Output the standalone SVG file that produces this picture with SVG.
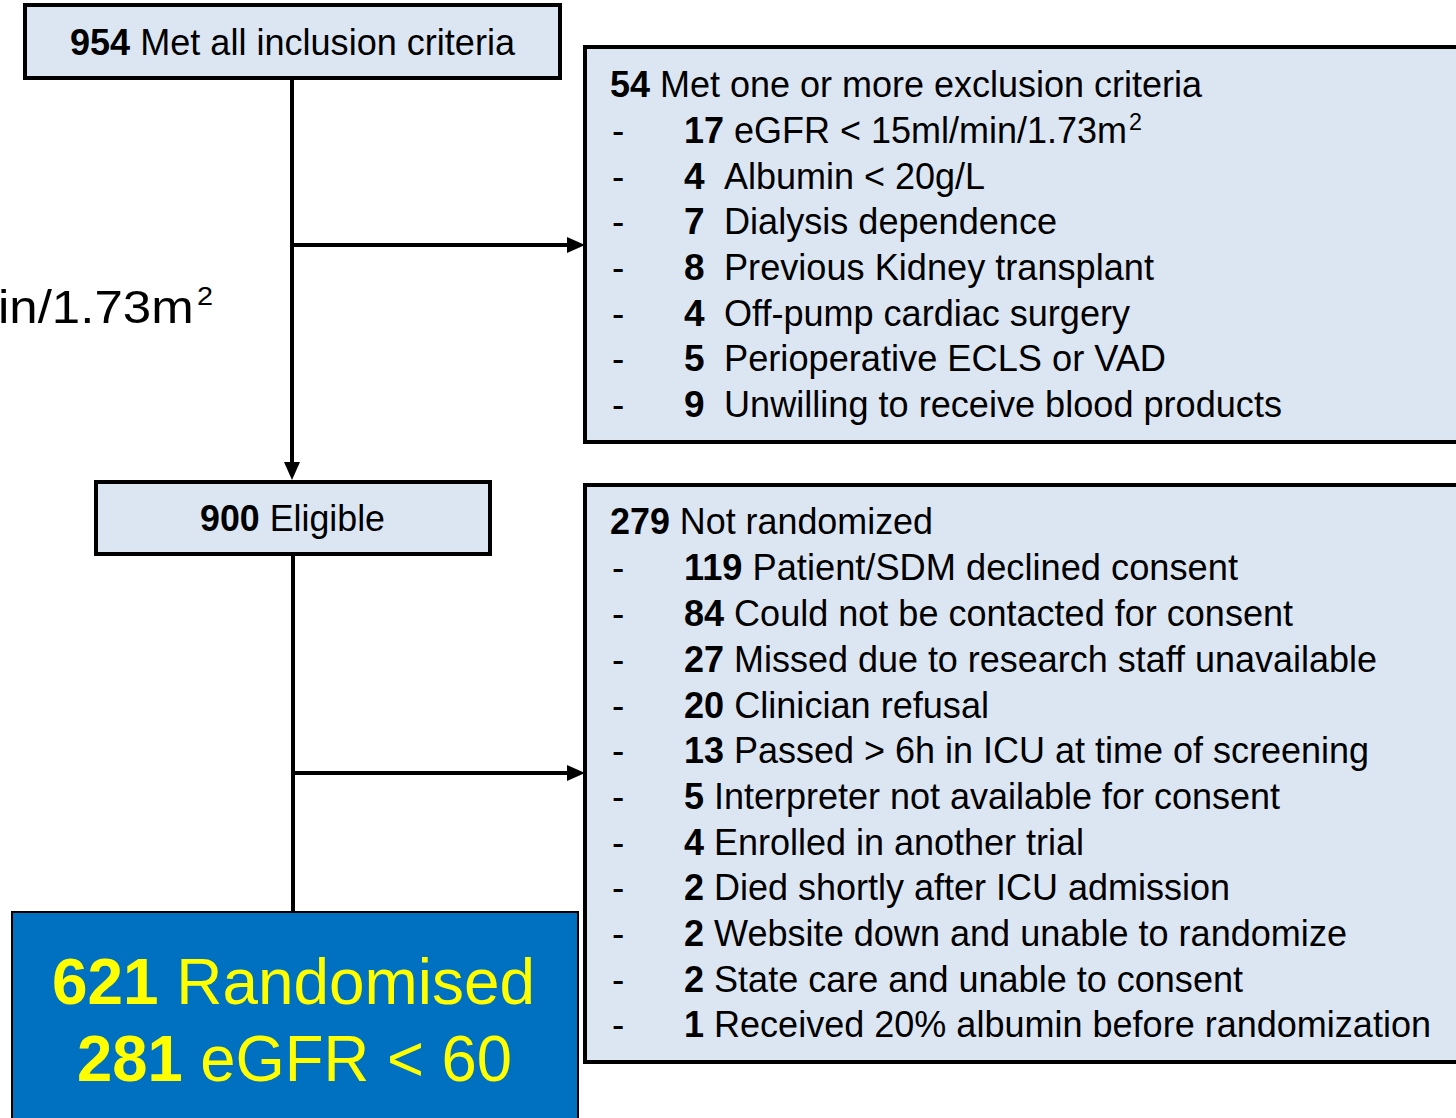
<svg xmlns="http://www.w3.org/2000/svg" width="1456" height="1118" viewBox="0 0 1456 1118">
<style>
.box{fill:#dce6f2;stroke:#000;stroke-width:4}
.t{font-family:"Liberation Sans",Arial,sans-serif;font-size:37px;fill:#000}
.b{font-weight:bold}
.big{font-family:"Liberation Sans",Arial,sans-serif;font-size:64px;fill:#ffff00}
.side{font-family:"Liberation Sans",Arial,sans-serif;font-size:46px;fill:#000}
.conn{fill:none;stroke:#000;stroke-width:4}
</style>
<defs>
<marker id="ah" markerUnits="userSpaceOnUse" markerWidth="18" markerHeight="16" refX="2" refY="8" orient="auto" viewBox="0 0 18 16">
<path d="M0,0 L18,8 L0,16 z" fill="#000"/>
</marker>
</defs>
<rect width="1456" height="1118" fill="#fff"/>

<g id="side-text">
<text class="side" x="-2" y="323" textLength="215" lengthAdjust="spacingAndGlyphs">in/1.73m<tspan dx="3" dy="-18" style="font-size:26px">2</tspan></text>
</g>

<g id="connectors">
<path class="conn" d="M292,78 V464" marker-end="url(#ah)"/>
<path class="conn" d="M292,245 H569" marker-end="url(#ah)"/>
<path class="conn" d="M293,554 V914"/>
<path class="conn" d="M293,773 H569" marker-end="url(#ah)"/>
</g>

<g id="node-inclusion">
<rect class="box" x="25" y="5" width="535" height="73"/>
<text class="t" x="70" y="55" textLength="445" lengthAdjust="spacingAndGlyphs"><tspan class="b">954</tspan> Met all inclusion criteria</text>
</g>

<g id="node-exclusion">
<rect class="box" x="585" y="47" width="900" height="395"/>
<text class="t" x="610" y="97" textLength="592" lengthAdjust="spacingAndGlyphs"><tspan class="b">54</tspan> Met one or more exclusion criteria</text>
<text class="t" x="612" y="143">-</text>
<text class="t" x="684" y="143" textLength="458" lengthAdjust="spacingAndGlyphs"><tspan class="b">17</tspan> eGFR &lt; 15ml/min/1.73m<tspan dx="2" dy="-13" style="font-size:24px">2</tspan></text>
<text class="t" x="612" y="189">-</text>
<text class="t b" x="684" y="189">4</text>
<text class="t" x="724" y="189" textLength="261" lengthAdjust="spacingAndGlyphs">Albumin &lt; 20g/L</text>
<text class="t" x="612" y="234">-</text>
<text class="t b" x="684" y="234">7</text>
<text class="t" x="724" y="234" textLength="333" lengthAdjust="spacingAndGlyphs">Dialysis dependence</text>
<text class="t" x="612" y="280">-</text>
<text class="t b" x="684" y="280">8</text>
<text class="t" x="724" y="280" textLength="430" lengthAdjust="spacingAndGlyphs">Previous Kidney transplant</text>
<text class="t" x="612" y="326">-</text>
<text class="t b" x="684" y="326">4</text>
<text class="t" x="724" y="326" textLength="406" lengthAdjust="spacingAndGlyphs">Off-pump cardiac surgery</text>
<text class="t" x="612" y="371">-</text>
<text class="t b" x="684" y="371">5</text>
<text class="t" x="724" y="371" textLength="442" lengthAdjust="spacingAndGlyphs">Perioperative ECLS or VAD</text>
<text class="t" x="612" y="417">-</text>
<text class="t b" x="684" y="417">9</text>
<text class="t" x="724" y="417" textLength="558" lengthAdjust="spacingAndGlyphs">Unwilling to receive blood products</text>
</g>

<g id="node-eligible">
<rect class="box" x="96" y="482" width="394" height="72"/>
<text class="t" x="200" y="531" textLength="185" lengthAdjust="spacingAndGlyphs"><tspan class="b">900</tspan> Eligible</text>
</g>

<g id="node-not-randomized">
<rect class="box" x="585" y="485" width="900" height="577"/>
<text class="t" x="610" y="534" textLength="323" lengthAdjust="spacingAndGlyphs"><tspan class="b">279</tspan> Not randomized</text>
<text class="t" x="612" y="580">-</text>
<text class="t" x="684" y="580" textLength="554" lengthAdjust="spacingAndGlyphs"><tspan class="b">119</tspan> Patient/SDM declined consent</text>
<text class="t" x="612" y="626">-</text>
<text class="t" x="684" y="626" textLength="609" lengthAdjust="spacingAndGlyphs"><tspan class="b">84</tspan> Could not be contacted for consent</text>
<text class="t" x="612" y="672">-</text>
<text class="t" x="684" y="672" textLength="693" lengthAdjust="spacingAndGlyphs"><tspan class="b">27</tspan> Missed due to research staff unavailable</text>
<text class="t" x="612" y="718">-</text>
<text class="t" x="684" y="718" textLength="305" lengthAdjust="spacingAndGlyphs"><tspan class="b">20</tspan> Clinician refusal</text>
<text class="t" x="612" y="763">-</text>
<text class="t" x="684" y="763" textLength="685" lengthAdjust="spacingAndGlyphs"><tspan class="b">13</tspan> Passed &gt; 6h in ICU at time of screening</text>
<text class="t" x="612" y="809">-</text>
<text class="t" x="684" y="809" textLength="596" lengthAdjust="spacingAndGlyphs"><tspan class="b">5</tspan> Interpreter not available for consent</text>
<text class="t" x="612" y="855">-</text>
<text class="t" x="684" y="855" textLength="400" lengthAdjust="spacingAndGlyphs"><tspan class="b">4</tspan> Enrolled in another trial</text>
<text class="t" x="612" y="900">-</text>
<text class="t" x="684" y="900" textLength="546" lengthAdjust="spacingAndGlyphs"><tspan class="b">2</tspan> Died shortly after ICU admission</text>
<text class="t" x="612" y="946">-</text>
<text class="t" x="684" y="946" textLength="663" lengthAdjust="spacingAndGlyphs"><tspan class="b">2</tspan> Website down and unable to randomize</text>
<text class="t" x="612" y="992">-</text>
<text class="t" x="684" y="992" textLength="559" lengthAdjust="spacingAndGlyphs"><tspan class="b">2</tspan> State care and unable to consent</text>
<text class="t" x="612" y="1037">-</text>
<text class="t" x="684" y="1037" textLength="747" lengthAdjust="spacingAndGlyphs"><tspan class="b">1</tspan> Received 20% albumin before randomization</text>
</g>

<g id="node-randomised">
<rect x="12" y="912" width="566" height="220" fill="#0070c0" stroke="#000" stroke-width="2"/>
<text class="big" x="52" y="1004" textLength="483" lengthAdjust="spacingAndGlyphs"><tspan class="b">621</tspan> Randomised</text>
<text class="big" x="77" y="1081" textLength="435" lengthAdjust="spacingAndGlyphs"><tspan class="b">281</tspan> eGFR &lt; 60</text>
</g>
</svg>
